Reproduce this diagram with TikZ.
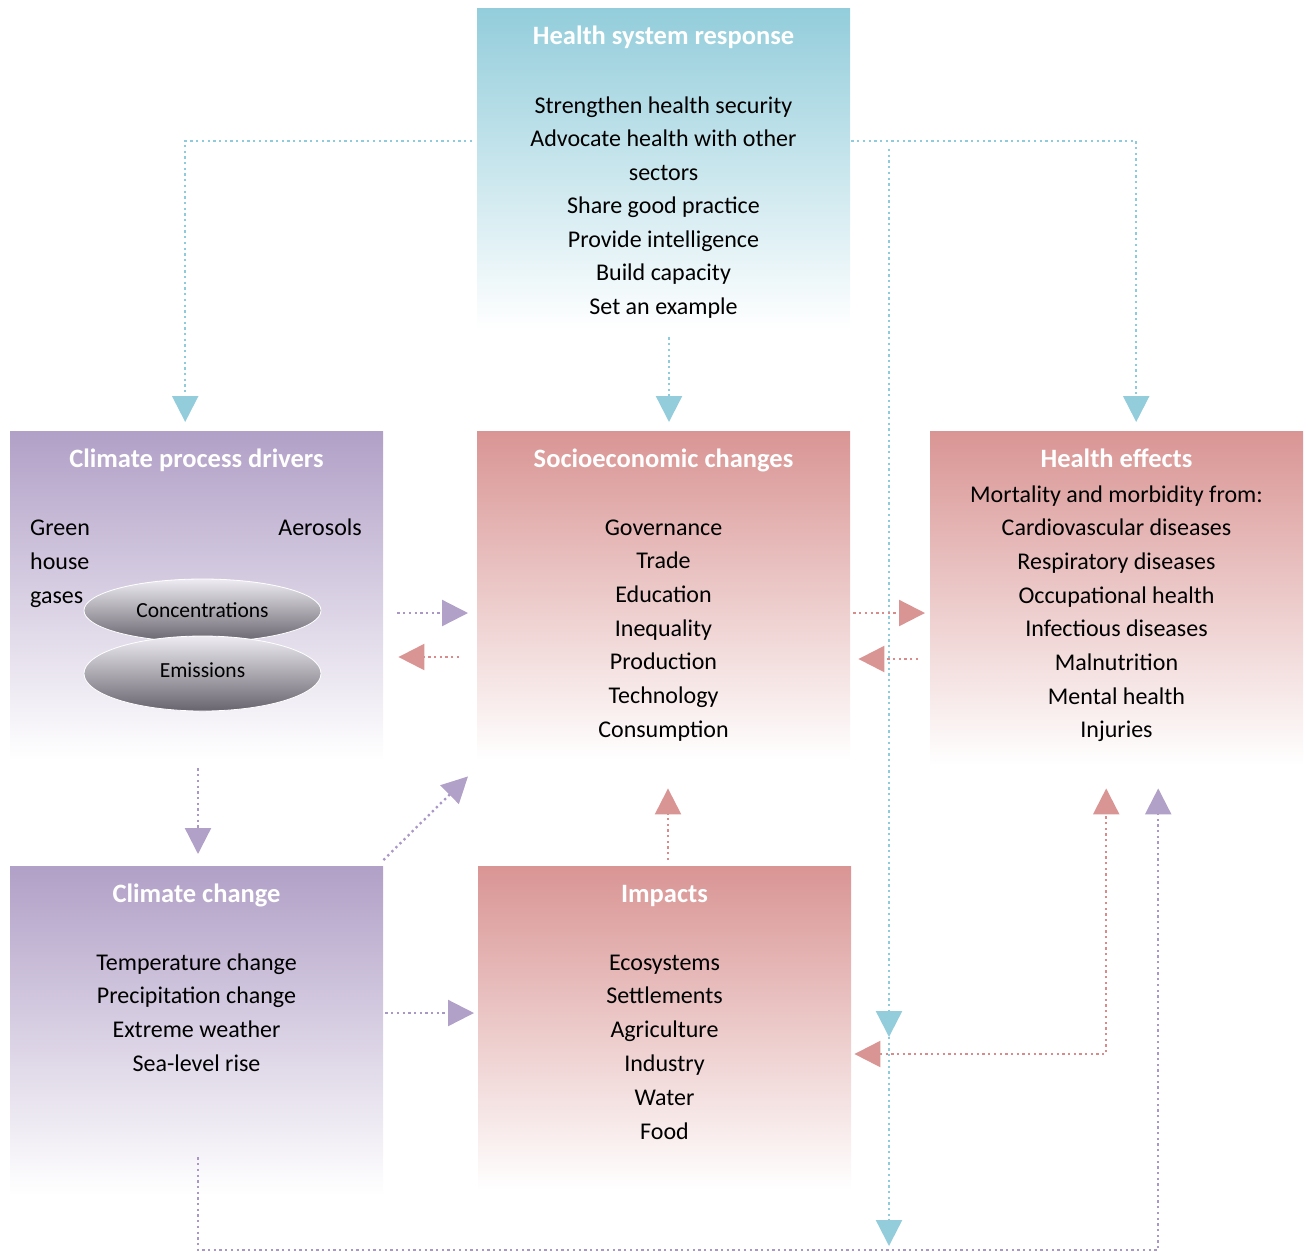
\documentclass[tikz,border=0pt]{standalone}
\usepackage{fontspec}
\setmainfont{Carlito}
\usetikzlibrary{arrows.meta,shapes.geometric}
\definecolor{cblue}{HTML}{93CDDB}
\definecolor{cpurp}{HTML}{B1A0C7}
\definecolor{cpink}{HTML}{D99594}
\definecolor{lblue}{HTML}{8FCBDA}
\definecolor{lpurp}{HTML}{A998C6}
\definecolor{lpink}{HTML}{D98B8B}
\definecolor{elltop}{RGB}{238,236,242}
\definecolor{ellmid}{RGB}{196,193,200}
\definecolor{ellbot}{RGB}{104,100,110}
\tikzset{
  box/.style={draw=none, rectangle, anchor=north west, minimum width=373pt, inner sep=0pt},
  ttl/.style={font=\fontsize{26.5}{30}\selectfont\bfseries, text=white, anchor=base, inner sep=0pt},
  txt/.style={font=\fontsize{24}{28}\selectfont, text=black, anchor=base, inner sep=0pt},
  dotl/.style={line width=2.3pt, dash pattern=on 2.3pt off 3.4pt},
  bl/.style={dotl, draw=lblue, -{Triangle[length=26pt,width=26pt,color=cblue]}},
  pl/.style={dotl, draw=lpurp, -{Triangle[length=26pt,width=26pt,color=cpurp]}},
  kl/.style={dotl, draw=lpink, -{Triangle[length=26pt,width=26pt,color=cpink]}},
  ell/.style={ellipse, draw=white, line width=0.8pt, minimum width=237pt, inner sep=0pt,
    top color=elltop, middle color=ellmid, bottom color=ellbot,
    font=\fontsize{21.5}{24}\selectfont}
}
\begin{document}
\begin{tikzpicture}[x=1pt,y=-1pt]
\useasboundingbox (0,0) rectangle (1308,1251);
% boxes
\node[box, top color=cblue, middle color=cblue!40!white, bottom color=white, minimum height=322pt] (hsr) at (477,8) {};
\node[box, top color=cpurp, middle color=cpurp!40!white, bottom color=white, minimum height=329pt] (cpd) at (10,431) {};
\node[box, top color=cpink, middle color=cpink!40!white, bottom color=white, minimum height=329pt] (soc) at (477,431) {};
\node[box, top color=cpink, middle color=cpink!40!white, bottom color=white, minimum height=334pt] (hef) at (930,431) {};
\node[box, top color=cpurp, middle color=cpurp!40!white, bottom color=white, minimum height=329pt] (ccb) at (10,866) {};
\node[box, top color=cpink, middle color=cpink!40!white, bottom color=white, minimum height=324pt] (imp) at (478,866) {};

% titles
\node[ttl] (hsr-t) at (663.5,44.5) {Health system response};
\node[ttl] (cpd-t) at (196.5,467.5) {Climate process drivers};
\node[ttl] (soc-t) at (663.5,467.5) {Socioeconomic changes};
\node[ttl] (hef-t) at (1116.5,467.5) {Health effects};
\node[ttl] (ccb-t) at (196.5,902.5) {Climate change};
\node[ttl] (imp-t) at (664.5,902.5) {Impacts};

% body texts
\foreach \t [count=\i] in {Strengthen health security, Advocate health with other, sectors, Share good practice, Provide intelligence, Build capacity, Set an example}
  \node[txt] (hsr-\i) at (663.5,{113+33.5*(\i-1)}) {\t};
\foreach \t [count=\i] in {Governance, Trade, Education, Inequality, Production, Technology, Consumption}
  \node[txt] (soc-\i) at (663.5,{535+33.7*(\i-1)}) {\t};
\foreach \t [count=\i] in {Mortality and morbidity from:, Cardiovascular diseases, Respiratory diseases, Occupational health, Infectious diseases, Malnutrition, Mental health, Injuries}
  \node[txt] (hef-\i) at (1116.5,{502+33.7*(\i-1)}) {\t};
\foreach \t [count=\i] in {Temperature change, Precipitation change, Extreme weather, Sea-level rise}
  \node[txt] (ccb-\i) at (196.5,{970+33.7*(\i-1)}) {\t};
\foreach \t [count=\i] in {Ecosystems, Settlements, Agriculture, Industry, Water, Food}
  \node[txt] (imp-\i) at (664.5,{970+33.8*(\i-1)}) {\t};

% climate process drivers content
\node[txt, anchor=base west] (gh1) at (30,535) {Green};
\node[txt, anchor=base west] (gh2) at (30,569) {house};
\node[txt, anchor=base west] (gh3) at (30,603) {gases};
\node[txt, anchor=base east] (aer) at (362,535) {Aerosols};
\node[ell, minimum height=63pt] (conc) at (202.5,610.5) {Concentrations};
\node[ell, minimum height=75pt] (emis) at (202.5,673.5) {\raisebox{6pt}{Emissions}};

% connectors
\draw[bl] ([xshift=-5pt]hsr.west |- 0,141) -| ([xshift=-11.5pt,yshift=9pt]cpd.north);
\draw[bl, shorten <=7pt] (hsr.south -| 669,0) -- ([yshift=9pt]soc.north -| 669,0);
\draw[bl] ([xshift=1pt]hsr.east |- 0,141) -| ([xshift=19.5pt,yshift=9pt]hef.north);
\coordinate (bstart) at (889,149);
\coordinate (bmid) at (889,1037);
\coordinate (bend) at (889,1246);
\draw[bl] (bstart) -- (bmid);
\draw[bl] (bmid) -- (bend);

\draw[pl] ([xshift=14pt]cpd.east |- 0,613) -- ([xshift=-9pt]soc.west |- 0,613);
\draw[kl] ([xshift=-18pt]soc.west |- 0,657) -- ([xshift=15pt]cpd.east |- 0,657);
\draw[kl] ([xshift=3pt]soc.east |- 0,613) -- ([xshift=-5pt]hef.west |- 0,613);
\draw[kl] ([xshift=-12pt]hef.west |- 0,659) -- ([xshift=8pt]soc.east |- 0,659);

\draw[pl] ([yshift=-8pt]cpd.south -| 198,0) -- ([yshift=12pt]ccb.north -| 198,0);
\draw[pl] ([yshift=6pt]ccb.north east) -- ([xshift=-9pt,yshift=-16pt]soc.south west);
\draw[pl] ([xshift=2pt]ccb.east |- 0,1013) -- ([xshift=-4pt]imp.west |- 0,1013);
\draw[kl] ([yshift=6pt]imp.north -| 668,0) -- ([yshift=-28pt]soc.south -| 668,0);
\draw[kl, {Triangle[length=26pt,width=26pt,color=cpink]}-{Triangle[length=26pt,width=26pt,color=cpink]}]
  ([xshift=3pt]imp.east |- 0,1054) -| ([xshift=-10.5pt,yshift=-23pt]hef.south);
\draw[pl] ([yshift=38pt]ccb.south -| 198,0) |- ([xshift=41.5pt]hef.south |- 0,1250)
  -- ([xshift=41.5pt,yshift=-23pt]hef.south);
\end{tikzpicture}
\end{document}
